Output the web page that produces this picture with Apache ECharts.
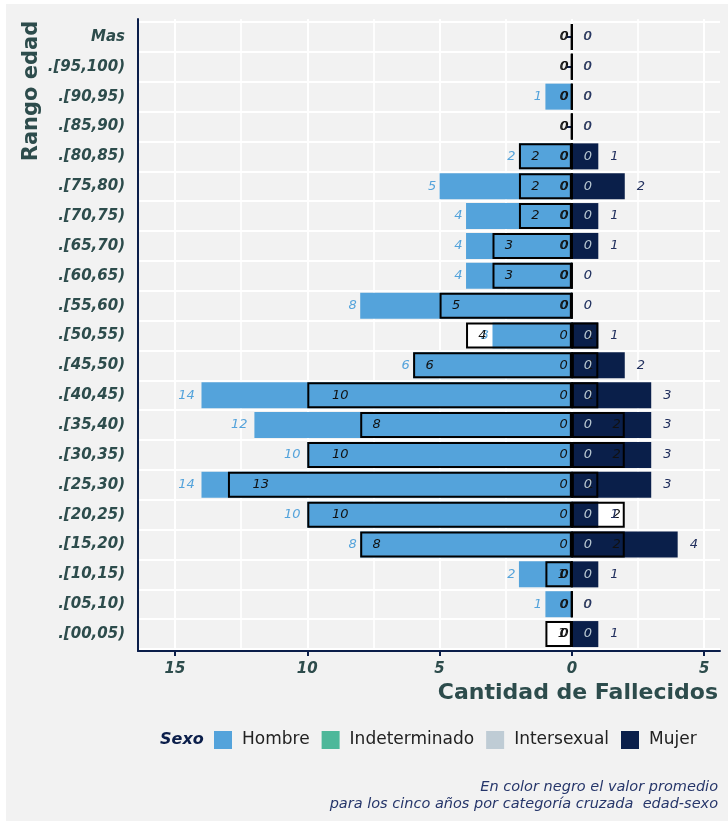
<!DOCTYPE html>
<html>
<head>
<meta charset="utf-8">
<script src="https://cdn.jsdelivr.net/npm/echarts@6/dist/echarts.min.js"></script>
<style>
html, body { margin: 0; padding: 0; background: #fff; }
#chart { width: 728px; height: 821px; }
</style>
</head>
<body>
<div id="chart"></div>
<script>
// rangos de edad, de abajo hacia arriba
var edades = ['.[00,05)', '.[05,10)', '.[10,15)', '.[15,20)', '.[20,25)', '.[25,30)', '.[30,35)',
    '.[35,40)', '.[40,45)', '.[45,50)', '.[50,55)', '.[55,60)', '.[60,65)', '.[65,70)', '.[70,75)',
    '.[75,80)', '.[80,85)', '.[85,90)', '.[90,95)', '.[95,100)', 'Mas'];
var hombre        = [0, 1, 2, 8, 10, 14, 10, 12, 14, 6, 3, 8, 4, 4, 4, 5, 2, 0, 1, 0, 0];
var mujer         = [1, 0, 1, 4, 1, 3, 3, 3, 3, 2, 1, 0, 0, 1, 1, 2, 1, 0, 0, 0, 0];
var indeterminado = [0, 0, 0, 0, 0, 0, 0, 0, 0, 0, 0, 0, 0, 0, 0, 0, 0, 0, 0, 0, 0];
var intersexual   = [0, 0, 0, 0, 0, 0, 0, 0, 0, 0, 0, 0, 0, 0, 0, 0, 0, 0, 0, 0, 0];
// promedio de los cinco años (en negro)
var promHombre    = [1, 0, 1, 8, 10, 13, 10, 8, 10, 6, 4, 5, 3, 3, 2, 2, 2, 0, 0, 0, 0];
var promMujer     = [0, 0, 0, 2, 2, 1, 2, 2, 1, 1, 1, 0, 0, 0, 0, 0, 0, 0, 0, 0, 0];
var promInter     = [0, 0, 0, 0, 0, 0, 0, 0, 0, 0, 0, 0, 0, 0, 0, 0, 0, 0, 0, 0, 0];
var xTicks = [-15, -10, -5, 0, 5];

var C_HOMBRE = '#54a3db', C_INDET = '#4db89a', C_INTER = '#bfccd5', C_MUJER = '#0a1f4a';
var NAVY = '#0b1e4a', SLATE = '#2d4c4c', BG = '#f2f2f2';
var FONT = 'DejaVu Sans';

// escala horizontal
var xMin = -16.4, xMax = 5.6, gLeft = 138, gRight = 720;
var px = (gRight - gLeft) / (xMax - xMin);
var cLeft = gLeft + (xTicks[0] - xMin) * px;
var cRight = gLeft + (xTicks[xTicks.length - 1] - xMin) * px;

var chart = echarts.init(document.getElementById('chart'));

var BAR_W = 26;
var labelBase = { fontFamily: FONT, fontStyle: 'italic', fontSize: 13, textBorderWidth: 0,
    formatter: function(p) { return Math.abs(p.value); } };

function lab(extra) { return Object.assign({ show: true }, labelBase, extra); }

function bar(name, data, style, z, label) {
    return {
        name: name, type: 'bar', data: data, barWidth: BAR_W, barGap: '-100%',
        xAxisIndex: 0, yAxisIndex: 0, z: z, silent: true,
        itemStyle: style, label: label || { show: false }
    };
}
var clear = 'rgba(0,0,0,0)';
var outline = { color: clear, borderColor: '#000', borderWidth: 2 };

var option = {
    animation: false,
    backgroundColor: BG,
    grid: [
        { left: gLeft, right: 728 - gRight, top: 22, bottom: 821 - 649, outerBoundsMode: 'none' },
        { left: gLeft, right: 728 - gRight, top: 19, bottom: 821 - 651, outerBoundsMode: 'none' },
        { left: cLeft, right: 728 - cRight, top: 19, bottom: 821 - 651, outerBoundsMode: 'none' }
    ],
    xAxis: [
        { gridIndex: 0, type: 'value', min: xMin, max: xMax, show: false },
        { gridIndex: 1, type: 'value', min: 0, max: 1,
          axisLine: { show: true, onZero: false, lineStyle: { color: NAVY, width: 2 } },
          axisTick: { show: false }, axisLabel: { show: false }, splitLine: { show: false } },
        { gridIndex: 2, type: 'value', min: xTicks[0], max: xTicks[xTicks.length - 1],
          interval: xTicks[1] - xTicks[0],
          axisLine: { show: false },
          axisTick: { show: true, length: 5, lineStyle: { color: NAVY, width: 2 } },
          axisLabel: { margin: 11, color: SLATE, fontFamily: FONT, fontWeight: 'bold', fontStyle: 'italic',
              fontSize: 15, formatter: function(v) { return Math.abs(v); } },
          splitLine: { show: true, lineStyle: { color: '#fff', width: 2 } },
          minorTick: { show: false, splitNumber: 2 },
          minorSplitLine: { show: true, lineStyle: { color: '#fff', width: 1.6 } } }
    ],
    yAxis: [
        { gridIndex: 0, type: 'category', data: edades,
          axisLine: { show: false },
          axisTick: { show: true, alignWithLabel: true, length: 5, lineStyle: { color: NAVY, width: 2 } },
          axisLabel: { margin: 13, color: SLATE, fontFamily: FONT, fontWeight: 'bold', fontStyle: 'italic',
              fontSize: 15 },
          splitLine: { show: true, interval: 0, lineStyle: { color: '#fff', width: 2 } } },
        { gridIndex: 1, type: 'value', min: 0, max: 1,
          axisLine: { show: true, onZero: false, lineStyle: { color: NAVY, width: 2 } },
          axisTick: { show: false }, axisLabel: { show: false }, splitLine: { show: false } },
        { gridIndex: 2, type: 'value', show: false }
    ],
    legend: {
        data: ['Hombre', 'Indeterminado', 'Intersexual', 'Mujer'],
        left: 214, top: 731, padding: 0, itemWidth: 18, itemHeight: 18, itemGap: 12,
        selectedMode: false, icon: 'rect',
        textStyle: { fontFamily: FONT, fontSize: 17, color: '#222', padding: [2, 0, 0, 5] }
    },
    graphic: [
        { type: 'rect', shape: { x: 0, y: 0, width: 6, height: 821 }, style: { fill: '#fff' }, silent: true },
        { type: 'rect', shape: { x: 0, y: 0, width: 728, height: 4 }, style: { fill: '#fff' }, silent: true },
        { type: 'text', x: 32, y: 91, rotation: Math.PI / 2,
          style: { text: 'Rango edad', fill: SLATE, font: 'bold 21px "DejaVu Sans"', align: 'center', verticalAlign: 'middle' } },
        { type: 'text', x: 718, y: 693,
          style: { text: 'Cantidad de Fallecidos', fill: SLATE, font: 'bold 22px "DejaVu Sans"', align: 'right', verticalAlign: 'middle' } },
        { type: 'text', x: 160, y: 740,
          style: { text: 'Sexo', fill: NAVY, font: 'italic bold 16px "DejaVu Sans"', align: 'left', verticalAlign: 'middle' } },
        { type: 'text', x: 718, y: 787,
          style: { text: 'En color negro el valor promedio', fill: '#26366a', font: 'italic 14.5px "DejaVu Sans"', align: 'right', verticalAlign: 'middle' } },
        { type: 'text', x: 718, y: 804,
          style: { text: 'para los cinco años por categoría cruzada  edad-sexo', fill: '#26366a', font: 'italic 14.5px "DejaVu Sans"', align: 'right', verticalAlign: 'middle' } }
    ],
    series: [
        // fondo blanco de los promedios
        bar('promH_fondo', promHombre.map(function(v) { return -v; }), { color: '#fff' }, 1),
        bar('promM_fondo', promMujer, { color: '#fff' }, 1),
        // valores
        bar('Hombre', hombre.map(function(v) {
            return { value: -v, label: { show: v > 0, distance: 3.4 * String(v).length } };
        }), { color: C_HOMBRE }, 2, lab({ position: 'left', color: C_HOMBRE })),
        bar('Indeterminado', indeterminado, { color: C_INDET }, 2),
        bar('Mujer', mujer, { color: C_MUJER }, 2),
        // promedios (contorno negro)
        bar('promH', promHombre.map(function(v) {
            return { value: -v, label: { distance: 12.3 * String(v).length } };
        }), outline, 3, lab({ position: 'insideLeft', color: '#111' })),
        bar('promM', promMujer, outline, 3, lab({ position: 'insideRight', distance: 4, color: '#111' })),
        bar('promI', promInter, outline, 3, lab({ position: 'insideRight', distance: 5, color: '#111' })),
        // etiquetas de intersexual y mujer
        bar('Intersexual', intersexual, { color: C_INTER }, 4, lab({ position: 'right', distance: 12, color: '#b9c8d2' })),
        bar('Mujer_etq', mujer, { color: clear }, 5, lab({ position: 'right', distance: 12, color: '#22305e' }))
    ]
};
chart.setOption(option);
</script>
</body>
</html>
